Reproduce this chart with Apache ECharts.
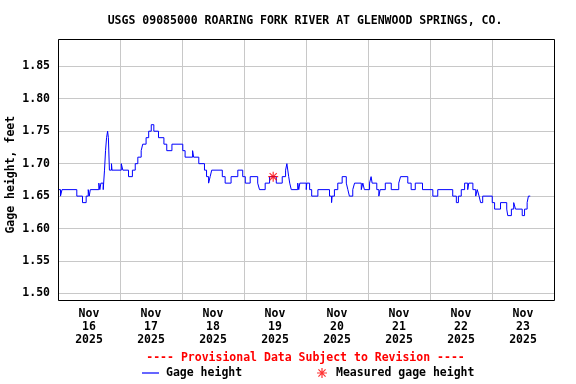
<!DOCTYPE html>
<html>
<head>
<meta charset="utf-8">
<script src="https://cdn.jsdelivr.net/npm/echarts@6/dist/echarts.min.js"></script>
<style>
html,body{margin:0;padding:0;background:#fff;}
#chart{width:576px;height:384px;}
</style>
</head>
<body>
<div id="chart"></div>
<script>
// Hours since Nov 16 2025 00:00 (change points of the step record)
var hours = [0, 0.97, 1.55, 7.28, 9.48, 10.9, 11.7, 12.1, 12.5, 15.8, 16.2, 16.6, 17.5, 18.0, 18.4, 18.8, 19.2, 19.5, 19.9, 20.7, 20.9, 24.5, 25.1, 27.3, 28.8, 29.9, 30.9, 32.2, 32.8, 34.1, 35.1, 36.1, 37.1, 38.9, 41.0, 42.1, 44.1, 48.3, 49.2, 52.1, 52.5, 54.5, 56.7, 57.5, 58.3, 58.9, 59.5, 63.6, 64.7, 67.0, 69.6, 71.5, 72.5, 74.4, 77.3, 78.0, 80.2, 81.9, 84.5, 86.8, 88.1, 88.6, 89.3, 89.7, 90.3, 92.8, 93.2, 93.6, 96.1, 96.3, 97.4, 98.2, 100.6, 105.1, 105.9, 106.1, 107.0, 108.3, 110.0, 111.6, 112.2, 112.8, 114.1, 114.8, 117.4, 118.0, 118.6, 120.6, 121.2, 121.6, 123.4, 124.2, 124.7, 126.7, 129.0, 131.9, 132.6, 135.4, 136.7, 138.3, 141.1, 145.1, 147.0, 152.8, 154.2, 155.0, 156.1, 157.4, 158.6, 159.0, 160.6, 161.7, 162.3, 163.0, 163.6, 164.4, 168.1, 169.0, 171.3, 173.7, 174.1, 175.5, 176.4, 177.1, 179.7, 180.6, 181.6, 182.1, 182.8];
var gageHeight = [1.66, 1.65, 1.66, 1.65, 1.64, 1.65, 1.66, 1.65, 1.66, 1.67, 1.66, 1.67, 1.66, 1.69, 1.72, 1.74, 1.75, 1.74, 1.69, 1.70, 1.69, 1.70, 1.69, 1.68, 1.69, 1.70, 1.71, 1.72, 1.73, 1.74, 1.75, 1.76, 1.75, 1.74, 1.73, 1.72, 1.73, 1.72, 1.71, 1.72, 1.71, 1.70, 1.69, 1.68, 1.67, 1.68, 1.69, 1.68, 1.67, 1.68, 1.69, 1.68, 1.67, 1.68, 1.67, 1.66, 1.67, 1.68, 1.67, 1.68, 1.69, 1.70, 1.68, 1.67, 1.66, 1.67, 1.66, 1.67, 1.66, 1.67, 1.66, 1.65, 1.66, 1.65, 1.64, 1.65, 1.66, 1.67, 1.68, 1.67, 1.66, 1.65, 1.66, 1.67, 1.66, 1.67, 1.66, 1.67, 1.68, 1.67, 1.66, 1.65, 1.66, 1.67, 1.66, 1.67, 1.68, 1.67, 1.66, 1.67, 1.66, 1.65, 1.66, 1.65, 1.64, 1.65, 1.66, 1.67, 1.66, 1.67, 1.66, 1.65, 1.66, 1.65, 1.64, 1.65, 1.64, 1.63, 1.64, 1.63, 1.62, 1.63, 1.64, 1.63, 1.62, 1.63, 1.64, 1.65, 1.65];
var measuredHours = [83.3];
var measuredHeight = [1.68];
var dayLabels = ['16', '17', '18', '19', '20', '21', '22', '23'];
var monthLabel = 'Nov';
var yearLabel = '2025';
var titleText = 'USGS 09085000 ROARING FORK RIVER AT GLENWOOD SPRINGS, CO.';

var FONT = '"DejaVu Sans Mono", "Liberation Mono", monospace';
var tickLabels = dayLabels.map(function (d) { return monthLabel + '\n' + d + '\n' + yearLabel; });
var lineData = hours.map(function (h, i) { return [h, gageHeight[i]]; });
var measData = measuredHours.map(function (h, i) { return [h, measuredHeight[i]]; });
var ASTER = 'path://M4.4 0h1.2v10h-1.2z M0 4.4h10v1.2h-10z M1.0 1.85L1.85 1.0L9.0 8.15L8.15 9.0z M8.15 1.0L9.0 1.85L1.85 9.0L1.0 8.15z';

var GL = 58, GT = 39, GW = 496, GH = 261;

var chart = echarts.init(document.getElementById('chart'), null, {renderer: 'canvas'});
chart.setOption({
  animation: false,
  backgroundColor: '#ffffff',
  grid: {left: GL, top: GT, width: GW, height: GH, show: false},
  xAxis: [{
    type: 'value', min: 0, max: 192, interval: 24,
    axisLine: {show: false}, axisTick: {show: false}, axisLabel: {show: false},
    splitLine: {show: true, lineStyle: {color: '#c8c8c8', width: 1}}
  }, {
    type: 'category', data: tickLabels, boundaryGap: true, position: 'bottom',
    axisLine: {show: false}, axisTick: {show: false}, splitLine: {show: false},
    axisLabel: {interval: 0, margin: 8, fontFamily: FONT, fontWeight: 'bold', fontSize: 11.5, lineHeight: 12.7, color: '#000', align: 'center'}
  }],
  yAxis: {
    type: 'value', min: 1.49, max: 1.892, splitNumber: 8,
    axisLine: {show: false}, axisTick: {show: false},
    axisLabel: {showMinLabel: false, showMaxLabel: false, margin: 8, fontFamily: FONT, fontWeight: 'bold', fontSize: 11.5, color: '#000',
      formatter: function (v) { return v.toFixed(2); }},
    splitLine: {show: true, lineStyle: {color: '#c8c8c8', width: 1}}
  },
  legend: [{
    data: ['Gage height'], left: 142, top: 367, padding: 0, icon: 'rect', itemWidth: 17, itemHeight: 1.2,
    textStyle: {fontFamily: FONT, fontWeight: 'bold', fontSize: 11.5, color: '#000', padding: [0, 0, 0, 2]}
  }, {
    data: ['Measured gage height'], left: 317, top: 367, padding: 0, icon: ASTER, itemWidth: 10, itemHeight: 10,
    textStyle: {fontFamily: FONT, fontWeight: 'bold', fontSize: 11.5, color: '#000', padding: [0, 0, 0, 4]}
  }],
  graphic: [{
    type: 'rect', z: 100, silent: true,
    shape: {x: GL + 0.5, y: GT + 0.5, width: GW, height: GH},
    style: {fill: null, stroke: '#000', lineWidth: 1}
  }, {
    type: 'text', x: 305, y: 20.7,
    style: {text: titleText, fontFamily: FONT, fontWeight: 'bold', fontSize: 11.5, fill: '#000', align: 'center', verticalAlign: 'middle'}
  }, {
    type: 'text', x: 305.5, y: 358.3,
    style: {text: '---- Provisional Data Subject to Revision ----', fontFamily: FONT, fontWeight: 'bold', fontSize: 11.5, fill: '#ff0000', align: 'center', verticalAlign: 'middle'}
  }, {
    type: 'text', x: 11, y: 174.7, rotation: Math.PI / 2,
    style: {text: 'Gage height, feet', fontFamily: FONT, fontWeight: 'bold', fontSize: 11.5, fill: '#000', align: 'center', verticalAlign: 'middle'}
  }],
  series: [{
    name: 'Gage height', type: 'line', xAxisIndex: 0, step: 'end', data: lineData,
    showSymbol: false, symbol: 'none', lineStyle: {color: '#0000ff', width: 1}, itemStyle: {color: '#0000ff'}
  }, {
    name: 'Measured gage height', type: 'scatter', xAxisIndex: 0, data: measData,
    symbol: ASTER, symbolSize: 10, itemStyle: {color: '#ff0000'}, z: 5
  }]
});
</script>
</body>
</html>
